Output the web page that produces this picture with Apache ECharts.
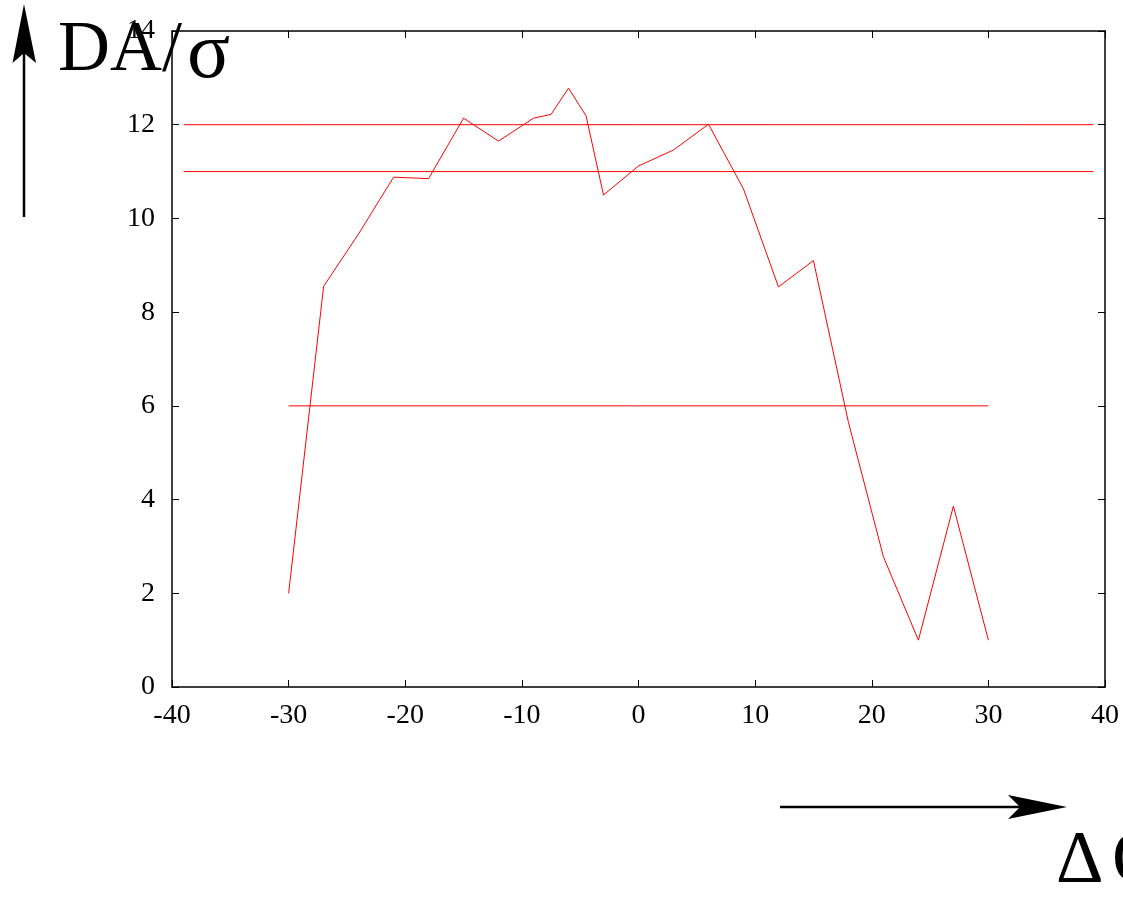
<!DOCTYPE html>
<html><head><meta charset="utf-8">
<script src="https://cdn.jsdelivr.net/npm/echarts@6/dist/echarts.min.js"></script>
<style>html,body{margin:0;padding:0;background:#fff}#c{width:1123px;height:898px}</style>
</head><body><div id="c"></div>
<script>
var xValues = [-30, -27, -24, -21, -18, -15, -12, -9, -7.5, -6, -4.5, -3, 0, 3, 6, 9, 12, 15, 18, 21, 24, 27, 30];
var daValues = [2.0, 8.55, 9.67, 10.88, 10.85, 12.14, 11.65, 12.14, 12.22, 12.78, 12.19, 10.50, 11.12, 11.46, 12.01, 10.63, 8.54, 9.10, 5.65, 2.78, 1.00, 3.86, 1.00];
var refLevels = [12, 11, 6];
var refStart = [-39, -39, -30];
var refEnd = [39, 39, 30];

var FONT = '"Liberation Serif", "DejaVu Serif", serif';
var RED = '#ff0000';
var chart = echarts.init(document.getElementById('c'), null, {renderer: 'canvas'});

var series = [{
  type: 'line', xAxisIndex: 0, yAxisIndex: 0,
  data: xValues.map(function (x, i) { return [x, daValues[i]]; }),
  showSymbol: false, symbol: 'none',
  lineStyle: {color: RED, width: 1, opacity: 1}, itemStyle: {color: RED},
  z: 3, silent: true
}];
refLevels.forEach(function (lv, i) {
  series.push({
    type: 'line', xAxisIndex: 0, yAxisIndex: 0,
    data: [[refStart[i], lv], [refEnd[i], lv]],
    showSymbol: false, symbol: 'none', color: RED,
    lineStyle: {color: RED, width: 1, opacity: 1}, itemStyle: {color: RED},
    z: 2, silent: true
  });
});

function axisCommon(showLabel, margin) {
  return {
    axisLine: {show: true, onZero: false, lineStyle: {color: '#000', width: 1.5}},
    axisTick: {show: true, inside: true, length: 7, lineStyle: {color: '#000', width: 1}},
    splitLine: {show: false},
    axisLabel: {show: showLabel, color: '#000', fontFamily: FONT, fontSize: 28, margin: margin}
  };
}

var xa0 = Object.assign({type: 'value', position: 'bottom', min: -40, max: 40, interval: 10}, axisCommon(true, 15));
var xa1 = Object.assign({type: 'value', position: 'top', min: -40, max: 40, interval: 10}, axisCommon(false, 8));
var ya0 = Object.assign({type: 'value', position: 'left', min: 0, max: 14, interval: 2}, axisCommon(true, 17));
var ya1 = Object.assign({type: 'value', position: 'right', min: 0, max: 14, interval: 2}, axisCommon(false, 8));

chart.setOption({
  animation: false,
  backgroundColor: '#fff',
  grid: {left: 172, right: 18, top: 31, bottom: 211, containLabel: false},
  xAxis: [xa0, xa1],
  yAxis: [ya0, ya1],
  series: series,
  graphic: [
    {type: 'line', shape: {x1: 24, y1: 217, x2: 24, y2: 50}, style: {stroke: '#000', lineWidth: 2.5}, z: 10},
    {type: 'polygon', shape: {points: [[24, 4], [36, 63], [24, 53], [12.5, 63]]}, style: {fill: '#000'}, z: 10},
    {type: 'line', shape: {x1: 780, y1: 807, x2: 1030, y2: 807}, style: {stroke: '#000', lineWidth: 2.5}, z: 10},
    {type: 'polygon', shape: {points: [[1067, 807], [1008, 795], [1020, 807], [1008, 819]]}, style: {fill: '#000'}, z: 10},
    {type: 'text', left: 58, top: 15, style: {text: 'DA/', font: '72px ' + FONT, fill: '#000'}, z: 10},
    {type: 'text', left: 187, top: 16, style: {text: 'σ', font: '80px ' + FONT, fill: '#000'}, z: 10},
    {type: 'text', left: 1056, top: 826, style: {text: 'Δ', font: '74px ' + FONT, fill: '#000'}, z: 10},
    {type: 'text', left: 1112, top: 826, style: {text: 'Q', font: '74px ' + FONT, fill: '#000'}, z: 10}
  ]
});
</script>
</body></html>
